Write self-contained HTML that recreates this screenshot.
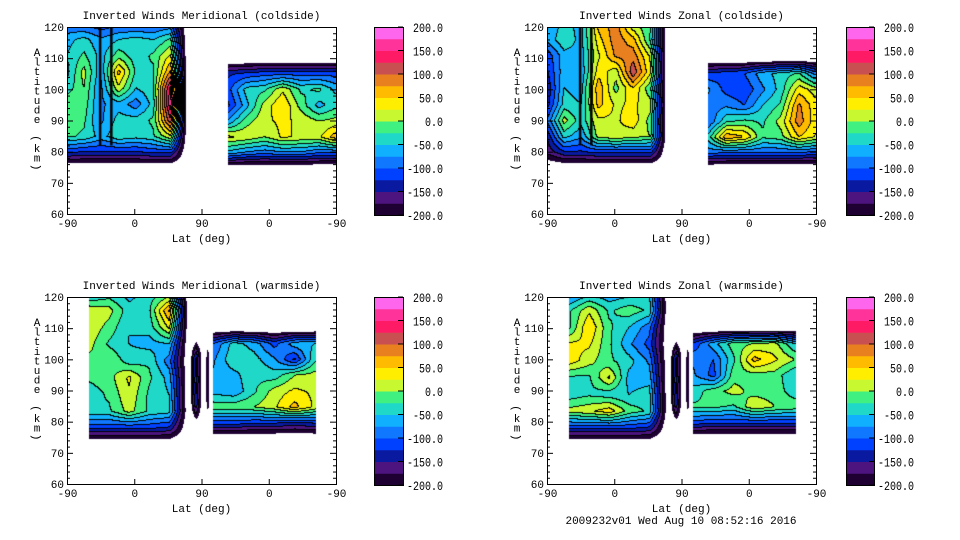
<!DOCTYPE html>
<html><head><meta charset="utf-8"><style>
body{margin:0;background:#fff;width:960px;height:540px;overflow:hidden;position:relative;font-family:"Liberation Mono",monospace;}
canvas{position:absolute;}
svg{position:absolute;left:0;top:0;}
</style></head><body>
<svg id="ov" width="960" height="540"></svg>
<script>
// ---- data ----
const bandColors=["#1e0033","#4d1480","#0a1aa0","#0040ff","#1078ff","#10b0ff","#20d8c8","#40f080","#c8f830","#ffee00","#ffbb00","#e88020","#c85050","#ff1a66","#ff3399","#ff66ee"];
const cbTicks=["200.0","150.0","100.0","50.0","0.0","-50.0","-100.0","-150.0","-200.0"];
const yTicks=[60,70,80,90,100,110,120];
const xTickLabels=["-90","0","90","0","-90"];
const titles=["Inverted Winds Meridional (coldside)","Inverted Winds Zonal (coldside)","Inverted Winds Meridional (warmside)","Inverted Winds Zonal (warmside)"];
const E=-240;
const p1A=[[-100,-110,-120,-110,-110,-110,-100,E],[-60,-40,-70,-50,-40,-50,-20,E],[-50,-20,-60,-10,-40,-20,30,E],[-60,10,-70,60,-30,-30,80,E],[-40,0,-80,20,-50,-30,160,E],[0,-10,-80,-60,-90,-40,170,E],[-10,-20,-80,-40,-40,-20,120,E],[-20,-30,-60,-30,-40,-30,20,E],[-120,-130,-130,-130,-130,-120,-120,E],[E,E,E,E,E,E,E,E]];
const p1B=[[E,E,E,E,E,E,E],[-130,-120,-110,-110,-110,-110,-110],[-110,-40,-30,20,-30,-20,-60],[-130,-60,10,50,-10,-60,-30],[-70,-10,20,30,20,0,10],[30,20,0,30,20,20,70],[-60,-80,-90,-80,-80,-100,-100],[E,E,E,E,E,E,E]];
const p2A=[[-80,-40,-60,60,90,0,-20,E],[-70,-30,-60,40,90,60,-30,E],[-120,-60,-60,20,80,90,20,E],[-130,-60,-70,40,10,120,30,E],[-150,-50,-60,70,-10,50,-20,E],[-140,-40,-50,60,20,30,10,E],[-100,10,-40,20,20,40,-10,E],[-150,-40,-70,10,20,10,0,E],[-170,-130,-130,-120,-120,-120,-120,E],[E,E,E,E,E,E,E,E]];
const p2B=[[E,E,E,E,E,E,E],[-120,-110,-100,-60,-40,-20,-90],[-70,-110,-120,-80,-40,40,10],[-90,-80,-100,-50,-20,80,30],[-100,-30,-20,-30,10,90,30],[-40,70,50,-20,-10,50,20],[-90,-100,-100,-100,-100,-100,-110],[E,E,E,E,E,E,E]];
const p3A=[[-60,-40,-60,-40,-20,E],[20,10,-40,-30,80,E],[20,-10,-50,-40,30,E],[10,-30,-50,-60,-50,E],[-10,0,-40,-30,-90,E],[-20,-10,30,-20,-60,E],[-40,-20,20,-30,-50,E],[-30,-30,10,-30,-40,E],[-120,-120,-120,-120,-130,E],[E,E,E,E,E,E]];
const p3C=[[E,E,E,E,E,E],[-100,-40,-60,-110,-60,-50],[-80,-30,-40,-70,-130,-30],[-70,-60,-30,-40,0,10],[-60,-70,-30,10,30,20],[-10,-10,0,20,60,20],[-110,-110,-120,-120,-130,-120],[E,E,E,E,E,E]];
const p4A=[[-90,-60,-70,-60,-50,E],[-30,20,-30,-10,-30,E],[-30,50,-20,-50,-90,E],[30,30,-20,-70,-110,E],[40,10,-20,-40,-80,E],[-30,-30,30,-60,-60,E],[-40,-30,-40,-50,-40,E],[10,20,40,-10,-30,E],[-120,-120,-120,-120,-130,E],[E,E,E,E,E,E]];
const p4C=[[E,E,E,E,E,E],[-120,-60,-10,0,10,-50],[-80,-100,-30,60,30,0],[-70,-110,-10,-10,-10,-50],[-40,-10,10,-10,-10,-40],[-20,-20,-30,20,0,-10],[-110,-120,-120,-120,-120,-120],[E,E,E,E,E,E]];
const ellA=[[E,E,E],[E,-120,E],[E,-110,E],[E,-130,E],[E,E,E]];
const ellB=[[E,E,E],[E,-185,E],[E,-180,E],[E,-185,E],[E,E,E]];
const panels=[
 {ox:0,oy:0,cbx:374,blocks:[{u0:0,u1:162,top:121,bot:74.5,g:p1A},{u0:216,u1:362,top:110,bot:74.5,g:p1B}],stripes:[[44,120,82],[59,120,82]]},
 {ox:480,oy:0,cbx:846,blocks:[{u0:0,u1:162,top:121,bot:74.5,g:p2A},{u0:216,u1:362,top:110,bot:74.5,g:p2B}],stripes:[[44,120,82],[59,120,82]]},
 {ox:0,oy:270,cbx:374,blocks:[{u0:30,u1:164,top:121,bot:72.5,g:p3A},{u0:163,u1:183,top:108,bot:78,g:ellA},{u0:182,u1:195,top:109,bot:78,g:ellB},{u0:196,u1:332,top:110,bot:74.5,g:p3C}],stripes:[]},
 {ox:480,oy:270,cbx:846,blocks:[{u0:30,u1:164,top:121,bot:72.5,g:p4A},{u0:163,u1:183,top:108,bot:78,g:ellA},{u0:182,u1:195,top:109,bot:78,g:ellB},{u0:196,u1:332,top:110,bot:74.5,g:p4C}],stripes:[]}
];
// ---- layout ----
const PL=67,PT=27,PW=269,PH=187;
const xs=u=>u/360*PW, ys=a=>(120-a)/60*PH;
const ov=document.getElementById('ov');
const NS='http://www.w3.org/2000/svg';
function mk(tag,attrs,txt){const e=document.createElementNS(NS,tag);for(const k in attrs)e.setAttribute(k,attrs[k]);if(txt!==undefined)e.textContent=txt;ov.appendChild(e);return e;}
function hex(c){return [parseInt(c.substr(1,2),16),parseInt(c.substr(3,2),16),parseInt(c.substr(5,2),16)];}
const rgb=bandColors.map(hex);
function band(v){if(v<-200)return -1;let b=Math.floor((v+200)/25);return Math.max(0,Math.min(15,b));}
panels.forEach((p,pi)=>{
 const cv=document.createElement('canvas');cv.width=PW;cv.height=PH;
 cv.style.left=(p.ox+PL)+'px';cv.style.top=(p.oy+PT)+'px';
 
 
 document.body.insertBefore(cv,ov);
 const ctx=cv.getContext('2d');const im=ctx.createImageData(PW,PH);
 const B=new Int16Array(PW*PH).fill(-1);
 p.blocks.forEach(bk=>{
  const x0=xs(bk.u0),x1=xs(bk.u1),y0=ys(bk.top),y1=ys(bk.bot);
  const g=bk.g,m=g.length,n=g[0].length;
  for(let y=Math.floor(y0);y<Math.ceil(y1);y++)for(let x=Math.floor(x0);x<Math.ceil(x1);x++){
   if(x<0||x>=PW||y<0||y>=PH)continue;
   const fx=Math.max(0,Math.min(n-1,(x+0.5-x0)/(x1-x0)*(n-1)));
   const fy=Math.max(0,Math.min(m-1,(y+0.5-y0)/(y1-y0)*(m-1)));
   const i=Math.min(n-2,Math.floor(fx)),j=Math.min(m-2,Math.floor(fy));
   const tx=fx-i,ty=fy-j;
   const v=g[j][i]*(1-tx)*(1-ty)+g[j][i+1]*tx*(1-ty)+g[j+1][i]*(1-tx)*ty+g[j+1][i+1]*tx*ty;
   const b=band(v);if(b>=0)B[y*PW+x]=b;
  }
 });
 for(let y=0;y<PH;y++)for(let x=0;x<PW;x++){
  const k=y*PW+x,b=B[k];let c=[255,255,255];
  if(b>=0){c=rgb[b];
   const r=x+1<PW?B[k+1]:-1,d=y+1<PH?B[k+PW]:-1;
   if((r>=0&&r!==b)||(d>=0&&d!==b))c=[0,0,0];}
  im.data[k*4]=c[0];im.data[k*4+1]=c[1];im.data[k*4+2]=c[2];im.data[k*4+3]=255;
 }
 ctx.putImageData(im,0,0);
 ctx.fillStyle='#000';
 p.stripes.forEach(s=>{ctx.fillRect(xs(s[0])-1,ys(s[1]),2.5,ys(s[2])-ys(s[1]));});
 // axes
 const L=p.ox+PL,T=p.oy+PT;
 mk('rect',{x:L+.5,y:T+.5,width:PW,height:PH,fill:'none',stroke:'#000','stroke-width':1,});
 for(let a=60;a<=120;a+=2){const y=T+.5+ys(a);const len=(a%10===0)?6:3;
  mk('line',{x1:L,y1:y,x2:L+len,y2:y,stroke:'#000'});mk('line',{x1:L+PW,y1:y,x2:L+PW-len,y2:y,stroke:'#000'});}
 yTicks.forEach(a=>{mk('text',{x:L-3,y:T+ys(a)+4,'font-size':11,'text-anchor':'end','font-family':'Liberation Mono,monospace',},String(a));});
 xTickLabels.forEach((t,i)=>{const x=L+.5+xs(i*90);
  mk('line',{x1:x,y1:T+PH,x2:x,y2:T+PH-5,stroke:'#000'});
  mk('text',{x:x,y:T+PH+13,'font-size':11,'text-anchor':'middle','font-family':'Liberation Mono,monospace',},t);});
 mk('text',{x:L+PW/2,y:T-8,'font-size':11,'text-anchor':'middle','font-family':'Liberation Mono,monospace',},titles[pi]);
 mk('text',{x:L+PW/2,y:T+PH+28,'font-size':11,'text-anchor':'middle','font-family':'Liberation Mono,monospace',},'Lat (deg)');
 "Altitude (km)".split('').forEach((ch,i)=>{if(ch===' ')return;
  const cy=p.oy+56+i*9.6;
  const e=mk('text',{x:p.ox+37,y:cy,'font-size':11,'text-anchor':'middle','font-family':'Liberation Mono,monospace',},ch);
  if(ch==='('||ch===')')e.setAttribute('transform','rotate(90 '+(p.ox+37)+' '+(cy-4)+')');});
 // colorbar
 const cbW=(pi%2===0)?29:28,cbT=p.oy+27,cbH=188,bh=cbH/16;
 bandColors.forEach((c,i)=>{mk('rect',{x:p.cbx,y:cbT+cbH-(i+1)*bh,width:cbW,height:bh+0.5,fill:c,});});
 mk('rect',{x:p.cbx+.5,y:cbT+.5,width:cbW,height:cbH,fill:'none',stroke:'#000',});
 cbTicks.forEach((t,i)=>{const y=cbT+i*cbH/8;
  mk('line',{x1:p.cbx+cbW-5,y1:y,x2:p.cbx+cbW,y2:y,stroke:'#000'});
  const xr=p.cbx+(pi%2===0?69:68);
  mk('text',{x:xr-t.length*6,y:y+5,'font-size':13,textLength:t.length*6,lengthAdjust:'spacingAndGlyphs','font-family':'Liberation Mono,monospace',},t);});
});
mk('text',{x:681,y:524,'font-size':11,'text-anchor':'middle','font-family':'Liberation Mono,monospace',},'2009232v01 Wed Aug 10 08:52:16 2016');
</script>
</body></html>
